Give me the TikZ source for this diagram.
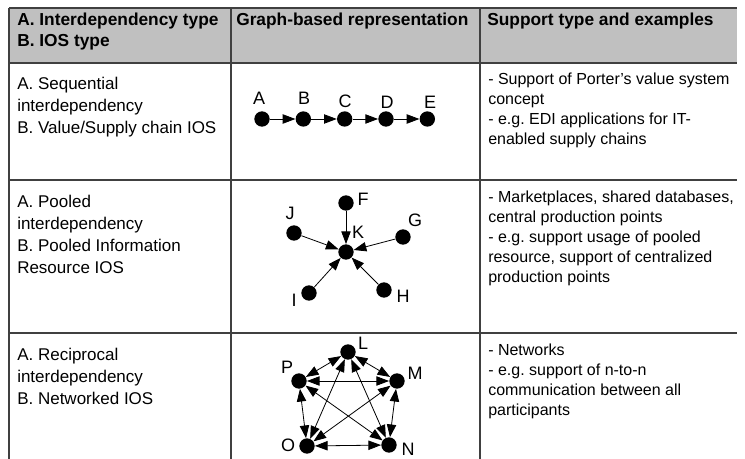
\documentclass[tikz,border=0pt]{standalone}
\usepackage{fontspec}
\setmainfont{Liberation Sans}
\usepackage{xcolor}
\usetikzlibrary{arrows.meta, positioning}
\definecolor{headgray}{RGB}{192,192,192}
\definecolor{rulegray}{RGB}{64,64,64}

\begin{document}
\frenchspacing
\begin{tikzpicture}[
        x=0.75pt, y=-0.75pt,
        node distance=31pt,
        >={Triangle[length=9.5pt, width=7pt]},
        dot/.style={circle, fill=black, inner sep=0pt, minimum size=11.5pt},
        lab/.style={inner sep=0pt, font=\fontsize{13.5}{15}\selectfont},
        rule/.style={draw=rulegray, line width=0.8pt},
        head/.style={anchor=base west, inner sep=0pt, align=left, font=\fontsize{13}{15.75}\selectfont\bfseries},
        kind/.style={anchor=base west, inner sep=0pt, align=left, font=\fontsize{12.75}{16.5}\selectfont},
        note/.style={anchor=base west, inner sep=0pt, align=left, font=\fontsize{12}{15}\selectfont},
        link/.style={line width=0.6pt}
    ]
    \useasboundingbox (0,0) rectangle (745,459);

    % table
    \fill[headgray] (9,8) rectangle (737,63);
    \draw[rule] (9,8) -- (737,8);
    \draw[rule] (9,63) -- (737,63);
    \draw[rule] (9,180) -- (737,180);
    \draw[rule] (9,333) -- (737,333);
    \draw[rule] (9,8) -- (9,459);
    \draw[rule] (231,8) -- (231,459);
    \draw[rule] (480,8) -- (480,459);

    % header (base = last line)
    \node[head] (h1) at (17,47) {A. Interdependency type\\B. IOS type};
    \node[head] (h2) at (236,26) {Graph-based representation};
    \node[head] (h3) at (487,26) {Support type and examples};

    % types
    \node[kind] (t1) at (17,134) {A. Sequential\\interdependency\\B. Value/Supply chain IOS};
    \node[kind] (t2) at (17,274) {A. Pooled\\interdependency\\B. Pooled Information\\Resource IOS};
    \node[kind] (t3) at (17,404) {A. Reciprocal\\interdependency\\B. Networked IOS};

    % support and examples
    \node[note] (n1) at (488,145) {- Support of Porter's value system\\concept\\- e.g. EDI applications for IT-\\enabled supply chains};
    \node[note] (n2) at (488,283) {- Marketplaces, shared databases,\\central production points\\- e.g. support usage of pooled\\resource, support of centralized\\production points};
    \node[note] (n3) at (488,415) {- Networks\\- e.g. support of n-to-n\\communication between all\\participants};

    % sequential chain
    \node[dot] (a) at (262,119) {};
    \node[dot, right of=a] (b) {};
    \node[dot, right of=b] (c) {};
    \node[dot, right of=c] (d) {};
    \node[dot, right of=d] (e) {};
    \node[lab] (la) at (259,98) {A};
    \node[lab] (lb) at (304,98) {B};
    \node[lab] (lc) at (345,101) {C};
    \node[lab] (ld) at (387,102) {D};
    \node[lab] (le) at (430,102) {E};
    \draw[->, link] (a) -- (b);
    \draw[->, link] (b) -- (c);
    \draw[->, link] (c) -- (d);
    \draw[->, link] (d) -- (e);

    % pooled star
    \node[dot] (k) at (346,252) {};
    \node[dot] (f) at (346,203) {};
    \node[dot] (j) at (294,233) {};
    \node[dot] (g) at (403,237) {};
    \node[dot] (i) at (309,293) {};
    \node[dot] (h) at (384,290) {};
    \node[lab] (lk) at (358,232) {K};
    \node[lab] (lf) at (363,199) {F};
    \node[lab] (lj) at (290,213) {J};
    \node[lab] (lg) at (415,220) {G};
    \node[lab] (li) at (294,300) {I};
    \node[lab] (lh) at (403,296) {H};
    \draw[->, link] (f) -- (k);
    \draw[->, link] (j) -- (k);
    \draw[->, link] (g) -- (k);
    \draw[->, link] (i) -- (k);
    \draw[->, link] (h) -- (k);

    % reciprocal network
    \node[dot] (l) at (348,352) {};
    \node[dot] (p) at (299,381) {};
    \node[dot] (m) at (397,381) {};
    \node[dot] (o) at (307,446) {};
    \node[dot] (nn) at (389,445) {};
    \node[lab] (ll) at (363,343) {L};
    \node[lab] (lp) at (287,367) {P};
    \node[lab] (lm) at (415,373) {M};
    \node[lab] (lo) at (288,445) {O};
    \node[lab] (ln) at (408,449) {N};
    \draw[<->, link] (l) -- (p);
    \draw[<->, link] (l) -- (m);
    \draw[<->, link] (p) -- (m);
    \draw[<->, link] (p) -- (o);
    \draw[<->, link] (m) -- (nn);
    \draw[<->, link] (o) -- (nn);
    \draw[<->, link] (l) -- (o);
    \draw[<->, link] (l) -- (nn);
    \draw[<->, link] (p) -- (nn);
    \draw[<->, link] (m) -- (o);

\end{tikzpicture}
\end{document}
